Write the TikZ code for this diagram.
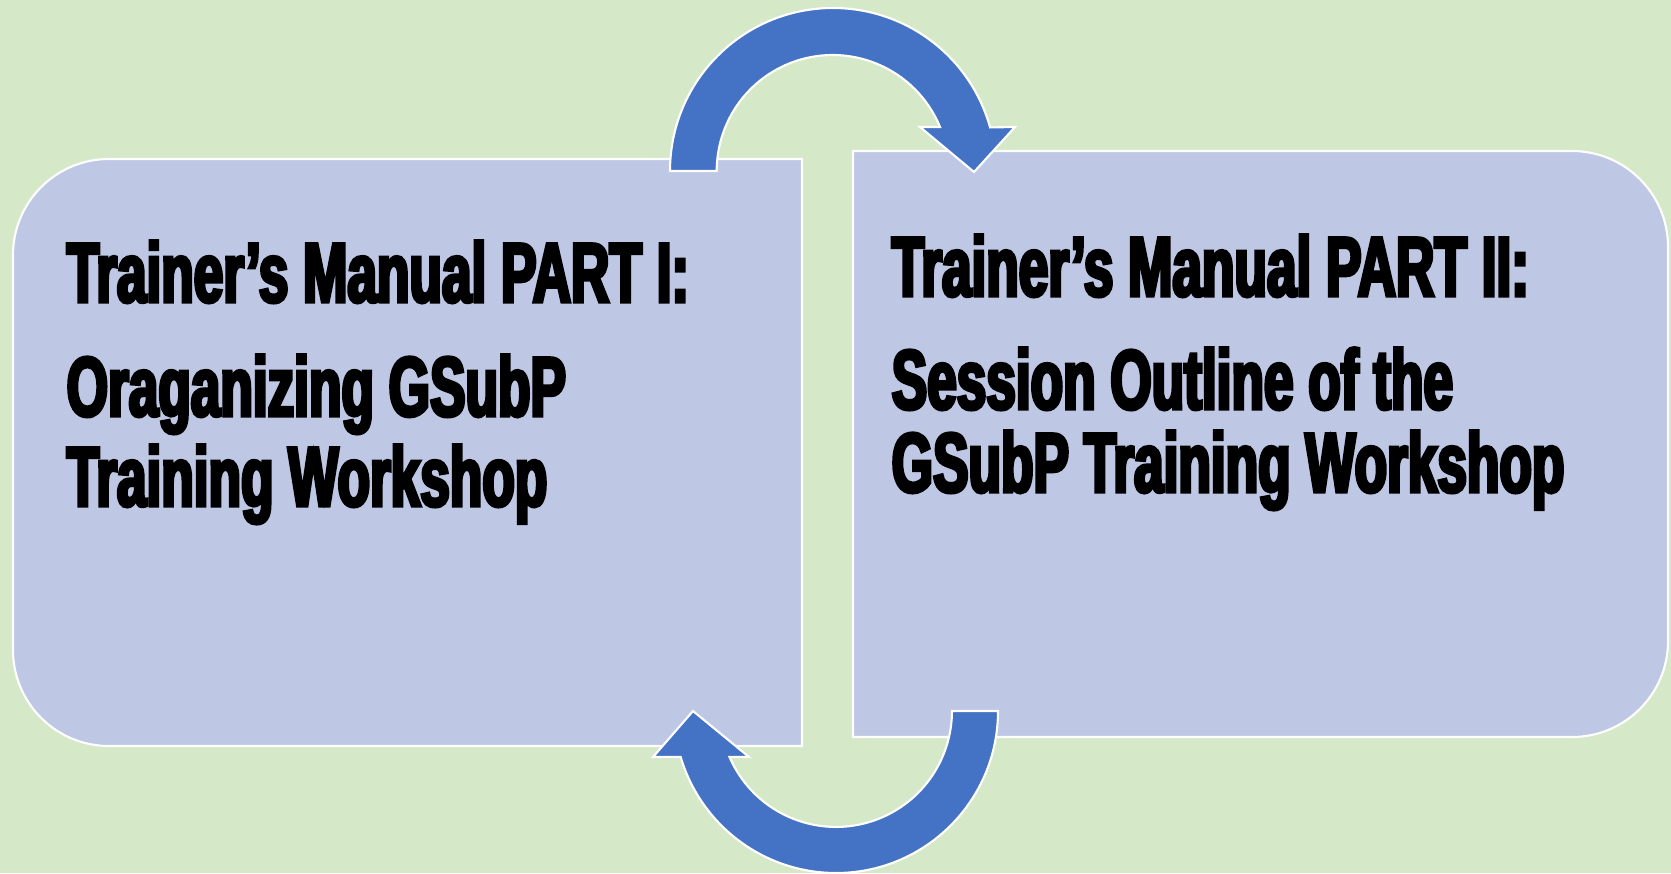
\documentclass[tikz,border=0pt]{standalone}
\usepackage{fontspec}
\usepackage{tikz}
\usetikzlibrary{positioning,calc}
\newfontfamily\headfont[FakeStretch=0.63,FakeBold=4]{Liberation Sans Bold}
\definecolor{bggreen}{RGB}{213,232,200}
\definecolor{panelblue}{RGB}{190,200,228}
\definecolor{arrowblue}{RGB}{68,114,196}

\begin{document}
\begin{tikzpicture}[x=0.01cm, y=-0.01cm]
\tikzstyle{panel}=[fill=panelblue, draw=white, line width=0.6pt]
\tikzstyle{cyclearrow}=[fill=arrowblue, draw=white, line width=0.6pt, line join=miter]
\tikzstyle{every node}=[inner sep=0pt, anchor=base west, align=left, text=black,
  font=\headfont\fontsize{24}{25.6}\selectfont]

\useasboundingbox (0,0) rectangle (1671,873);
\fill[bggreen] (0,0) rectangle (1671,873);

\draw[panel] (802,159) -- (802,746) -- (109,746) arc[start angle=90, end angle=180, radius=96]
  -- (13,255) arc[start angle=180, end angle=270, radius=96] -- cycle;
\draw[panel] (853,151) -- (1572,151) arc[start angle=270, end angle=360, radius=96]
  -- (1668,641) arc[start angle=0, end angle=90, radius=96] -- (853,737) -- cycle;

\draw[cyclearrow] (670,171) arc[start angle=180, end angle=344.5, radius=163]
  -- (1015,127) -- (974,172) -- (920,127) -- (940,127)
  arc[start angle=337.7, end angle=180, radius=116] -- cycle;
\draw[cyclearrow] (998,711) arc[start angle=0, end angle=163.5, radius=162]
  -- (653,757) -- (693,711) -- (749,757) -- (729.5,757)
  arc[start angle=156.6, end angle=0, radius=116] -- cycle;

\node (t1) at (66,302) {Trainer’s Manual PART I:};
\node (b1) at (66,506) {Oraganizing GSubP\\Training Workshop};
\node (t2) at (891,296) {Trainer’s Manual PART II:};
\node[font=\headfont\fontsize{24}{23.6}\selectfont] (b2) at (891,492) {Session Outline of the\\GSubP Training Workshop};
\end{tikzpicture}
\end{document}
